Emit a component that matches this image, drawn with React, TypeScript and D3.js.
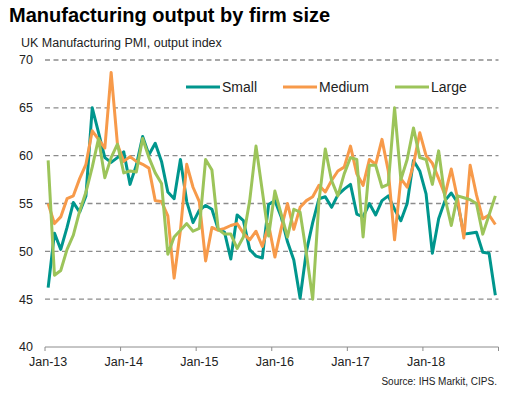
import React from 'react';
import * as d3 from 'd3';

// Monthly UK manufacturing PMI output index, Jan-13 .. Dec-18
const YEARS = ['13', '14', '15', '16', '17', '18'];
const MONTHS = ['Jan', 'Feb', 'Mar', 'Apr', 'May', 'Jun', 'Jul', 'Aug', 'Sep', 'Oct', 'Nov', 'Dec'];
const months = YEARS.flatMap(y => MONTHS.map(m => `${m}-${y}`));

const small = [
  46.2, 51.9, 50.2, 52.5, 55.1, 54.1, 55.8, 65.0, 62.4, 59.8, 59.3, 59.8,
  60.4, 57.0, 59.0, 62.0, 60.1, 61.3, 59.4, 56.2, 55.5, 59.6, 55.2, 53.0,
  54.3, 54.8, 54.4, 52.3, 52.0, 49.2, 53.8, 53.2, 50.2, 49.5, 49.3, 54.9,
  55.3, 53.6, 51.0, 49.1, 45.1, 50.0, 53.0, 55.5, 55.7, 54.6, 55.9, 56.5,
  57.0, 53.9, 53.6, 55.0, 53.8, 55.3, 55.8, 54.4, 53.2, 55.0, 59.5, 58.4,
  56.0, 49.8, 53.4, 55.3, 56.1, 55.1, 51.8, 51.9, 52.0, 49.9, 49.8, 45.4
];

const medium = [
  55.0, 52.9, 53.6, 55.5, 55.8, 57.6, 59.1, 62.6, 61.7, 60.8, 68.7, 61.2,
  59.4, 59.9, 59.4, 59.1, 58.7, 55.3, 55.2, 53.7, 47.2, 52.2, 59.1, 56.7,
  55.2, 49.0, 52.5, 52.2, 52.4, 52.7, 52.9, 51.9, 51.2, 52.1, 50.5, 52.8,
  49.4, 52.4, 55.0, 52.3, 54.6, 55.3, 55.7, 56.9, 56.2, 57.4, 58.4, 58.8,
  61.0, 58.1, 56.9, 59.6, 59.1, 61.7, 58.4, 51.2, 57.6, 56.7, 59.1, 62.4,
  60.0, 59.2, 57.6, 55.9, 58.6, 55.5, 51.4, 59.0, 55.9, 53.4, 53.8, 52.8
];

const large = [
  59.5, 47.5, 48.0, 50.2, 51.7, 54.2, 56.2, 58.8, 61.8, 57.7, 59.8, 61.2,
  58.2, 58.4, 58.3, 61.8, 59.8, 58.2, 57.1, 49.7, 51.5, 52.2, 52.9, 52.1,
  52.4, 59.6, 58.5, 52.3, 51.8, 51.8, 50.3, 51.5, 55.3, 61.0, 56.3, 51.6,
  56.3, 53.9, 51.5, 54.4, 54.1, 49.8, 45.0, 55.3, 60.7, 57.4, 55.8, 58.1,
  59.8, 59.6, 51.5, 59.0, 59.0, 56.7, 57.0, 65.0, 57.5, 59.6, 62.9, 59.8,
  59.6, 57.0, 60.5, 55.6, 52.7, 55.8, 55.6, 55.4, 55.0, 51.8, 53.8, 55.8
];

const yTicks = [40, 45, 50, 55, 60, 65, 70];
const xTickLabels = ['Jan-13', 'Jan-14', 'Jan-15', 'Jan-16', 'Jan-17', 'Jan-18'];

const series = [
  { name: 'Small', values: small, color: '#00968d' },
  { name: 'Medium', values: medium, color: '#f79a4a' },
  { name: 'Large', values: large, color: '#9cc45a' }
];

const W = 514;
const H = 399;
const FONT = '"Liberation Sans", Arial, sans-serif';

export default function App() {
  const x = d3.scaleBand<string>().domain(months).range([45, 498.5]).paddingInner(0).paddingOuter(0);
  const y = d3.scaleLinear().domain([40, 70]).range([347, 60]);
  const cx = (m: string) => (x(m) ?? 0) + x.bandwidth() / 2;

  const line = d3.line<number>()
    .x((_, i) => cx(months[i]))
    .y(d => y(d));

  // year boundaries plus the right end
  const tickXs = [...xTickLabels.map(l => x(l) ?? 0), 498.5];

  const legendX = [186, 283, 395];

  return (
    <svg width={W} height={H} style={{ display: 'block', position: 'absolute', left: 0, top: 0 }} fontFamily={FONT}>
      <rect width={W} height={H} fill="#fff" />
      <text x={9} y={22} fontSize={20} fontWeight="bold" fill="#000">Manufacturing output by firm size</text>
      <text x={21} y={47} fontSize={12.5} fill="#222">UK Manufacturing PMI, output index</text>

      {yTicks.map(t => (
        <g key={t}>
          {t > 40 && (
            <line x1={45} x2={498.5} y1={y(t)} y2={y(t)} stroke="#8c8c8c" strokeWidth={1.3} strokeDasharray="5 3.5" />
          )}
          <text x={33} y={y(t)} dy="0.35em" fontSize={12.5} textAnchor="end" fill="#222">{t}</text>
        </g>
      ))}

      <line x1={45} x2={498.5} y1={y(40)} y2={y(40)} stroke="#8c8c8c" strokeWidth={1} />
      {tickXs.map((tx, i) => (
        <line key={i} x1={tx} x2={tx} y1={y(40)} y2={y(40) + 4} stroke="#8c8c8c" strokeWidth={1} />
      ))}
      {xTickLabels.map(l => (
        <text key={l} x={cx(l)} y={366} fontSize={12.5} textAnchor="middle" fill="#222">{l}</text>
      ))}

      {series.map(s => (
        <path key={s.name} d={line(s.values) ?? ''} fill="none" stroke={s.color} strokeWidth={3} strokeLinejoin="round" />
      ))}

      {series.map((s, i) => (
        <g key={s.name} transform={`translate(${legendX[i]},87)`}>
          <line x1={0} x2={34} y1={0} y2={0} stroke={s.color} strokeWidth={3} />
          <text x={36} y={0} dy="0.35em" fontSize={14} fill="#222">{s.name}</text>
        </g>
      ))}

      <text x={497} y={385} fontSize={10} textAnchor="end" fill="#222">Source: IHS Markit, CIPS.</text>
    </svg>
  );
}
